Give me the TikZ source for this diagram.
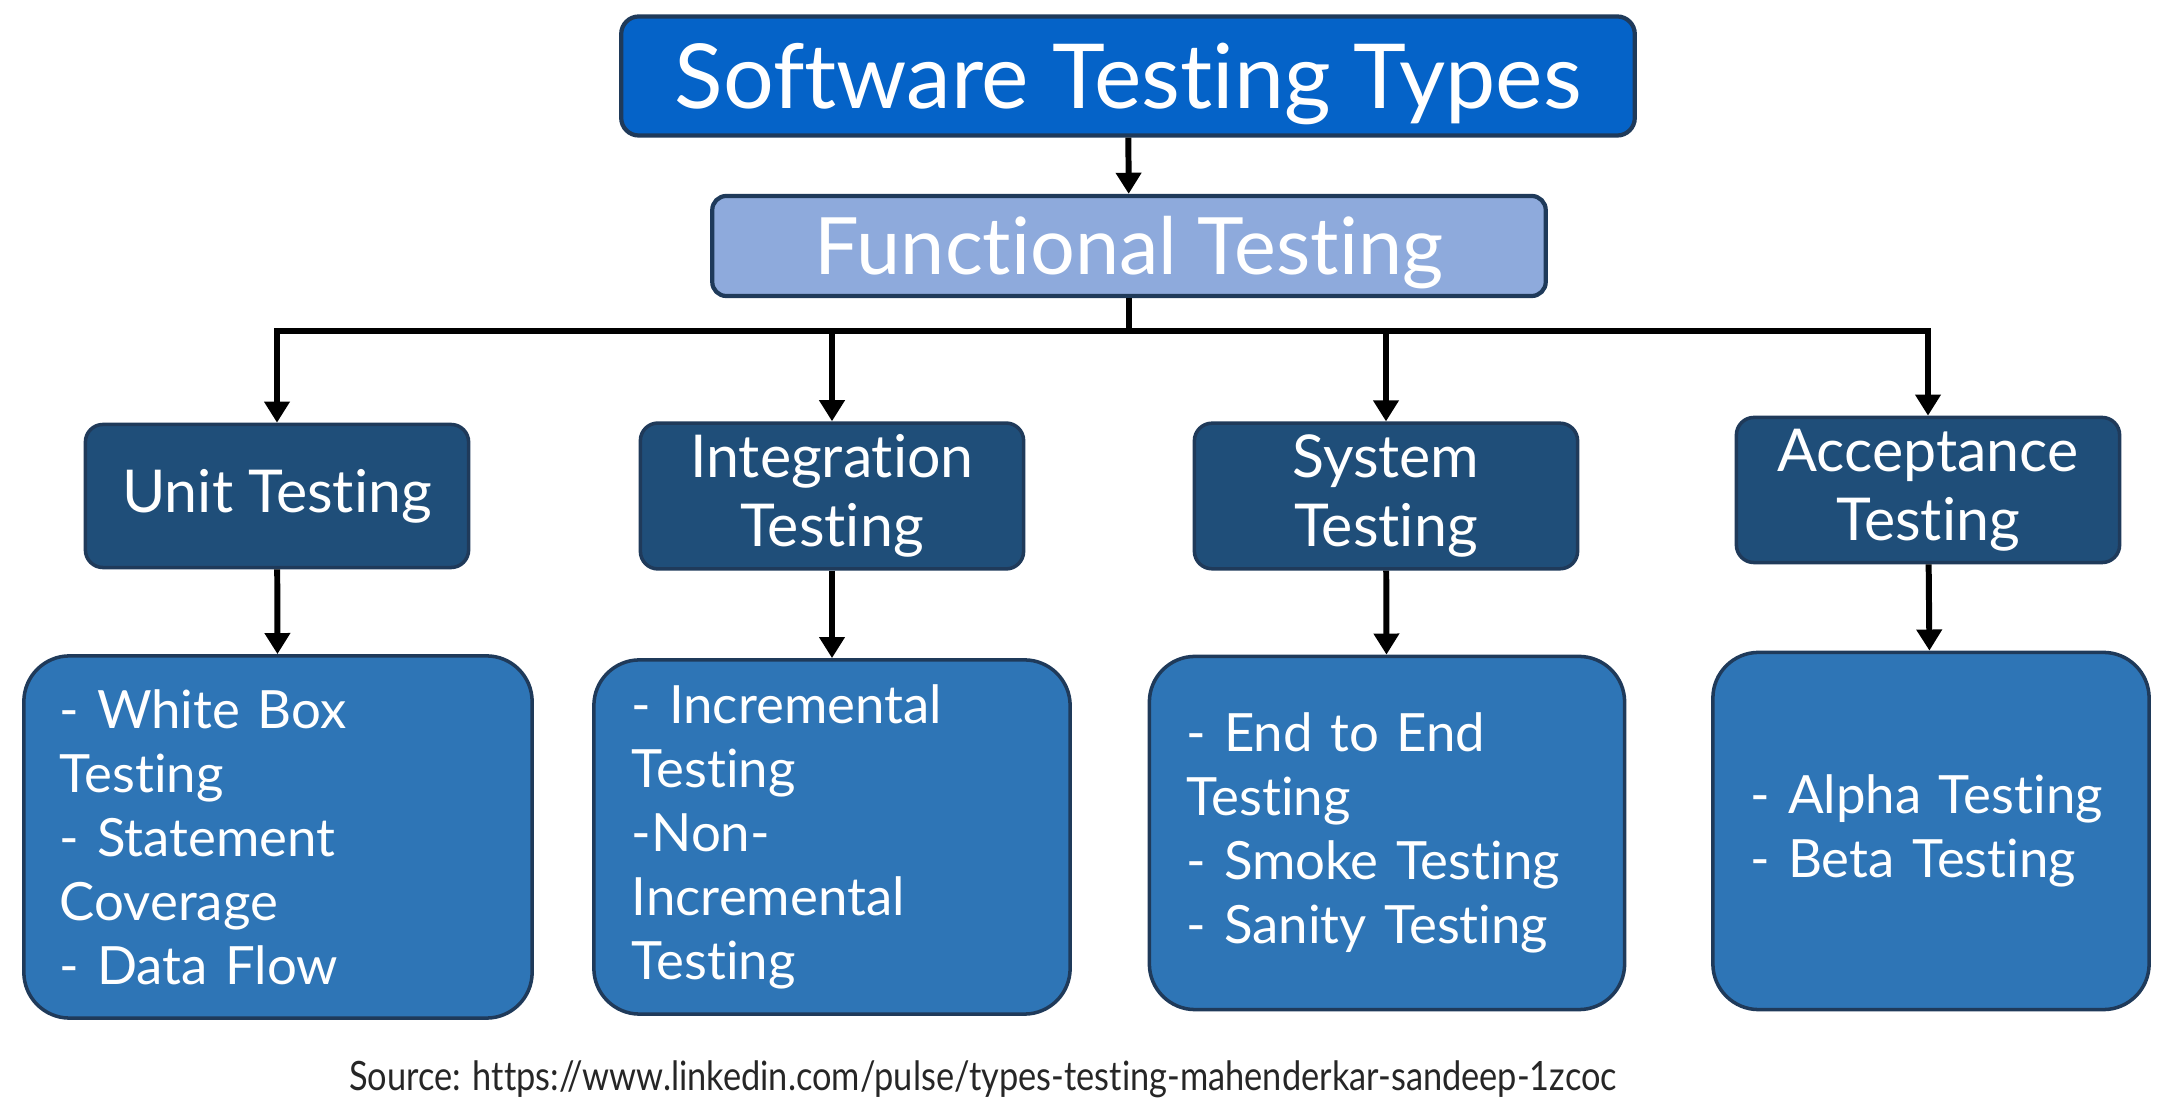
\documentclass[tikz,border=0pt]{standalone}
\usepackage{fontspec}
\setmainfont{Lato}[Ligatures=NoCommon]
\usetikzlibrary{arrows.meta}
\definecolor{titleblue}{HTML}{0563C8}
\definecolor{funcblue}{HTML}{8EAADC}
\definecolor{darkblue}{HTML}{1F4E79}
\definecolor{midblue}{HTML}{2E75B6}
\definecolor{edgeblue}{HTML}{1F3A5A}
\hyphenpenalty=10000
\exhyphenpenalty=10000
\begin{document}
\begin{tikzpicture}[x=0.01cm,y=-0.01cm,
  titlebox/.style={draw=edgeblue,line width=1.2pt,fill=titleblue,rounded corners=5pt,
    text=white,font=\fontsize{25.5}{30}\selectfont,text height=18.4pt,text depth=0pt,
    minimum width=10.13cm,minimum height=1.19cm},
  funcbox/.style={draw=edgeblue,line width=1.2pt,fill=funcblue,rounded corners=4pt,
    text=white,font=\fontsize{22.5}{26}\selectfont,text height=16.2pt,text depth=0pt,
    minimum width=8.33cm,minimum height=1cm},
  typebox/.style={draw=edgeblue,line width=1pt,fill=darkblue,rounded corners=5pt,
    text=white,font=\fontsize{16.8}{19.5}\selectfont,align=center,
    minimum width=3.83cm,minimum height=1.43cm},
  listbox/.style={draw=edgeblue,line width=1pt,fill=midblue,rounded corners=13pt,
    text=white,font=\fontsize{15}{18.2}\selectfont,
    align=left,inner xsep=0pt},
  link/.style={line width=1.7pt,-{Triangle[length=6pt,width=7pt]}},
  bar/.style={line width=1.7pt}
]
\useasboundingbox (0,0) rectangle (2178,1104);

\node[titlebox] (title) at (1128,76) {Software Testing Types};
\node[funcbox] (func) at (1129,246) {Functional Testing};

\node[typebox] (unit) at (277,496) {Unit Testing};
\node[typebox] (integ) at (832,496) {Integration\\Testing};
\node[typebox] (sys) at (1386,496) {System\\Testing};
\node[typebox] (acc) at (1928,490) {Acceptance\\Testing};

\node[listbox,minimum width=5.08cm,minimum height=3.62cm,text width=4.36cm] (unitl) at (278,837)
  {- White Box\\Testing\\- Statement\\Coverage\\- Data Flow};
\node[listbox,minimum width=4.76cm,minimum height=3.54cm,text width=4.0cm] (integl) at (832,837)
  {- Incremental\\Testing\\-Non-\\Incremental\\Testing};
\node[listbox,minimum width=4.75cm,minimum height=3.53cm,text width=4.0cm] (sysl) at (1387,833)
  {- End to End\\Testing\\- Smoke Testing\\- Sanity Testing};
\node[listbox,minimum width=4.36cm,minimum height=3.57cm,text width=3.6cm] (accl) at (1931,831)
  {- Alpha Testing\\- Beta Testing};

\coordinate (hub) at (func.south |- 0,331);
\coordinate (lft) at (unit.north |- hub);
\coordinate (rgt) at (acc.north |- hub);

\draw[link] (title) -- (func);
\draw[bar] (func.south) -- (hub);
\draw[bar,line cap=rect] (lft) -- (rgt);
\draw[link] (lft) -- (unit.north);
\draw[link] (integ.north |- hub) -- (integ.north);
\draw[link] (sys.north |- hub) -- (sys.north);
\draw[link] (rgt) -- (acc.north);

\draw[link] (unit) -- (unitl);
\draw[link] (integ) -- (integl);
\draw[link] (sys) -- (sysl);
\draw[link] (acc) -- (accl);

\node[font=\fontsize{11.5}{14}\selectfont,text=black!85] (src) at (983,1079)
  {\scalebox{0.85}[1]{Source: https://www.linkedin.com/pulse/types-testing-mahenderkar-sandeep-1zcoc}};
\end{tikzpicture}
\end{document}
